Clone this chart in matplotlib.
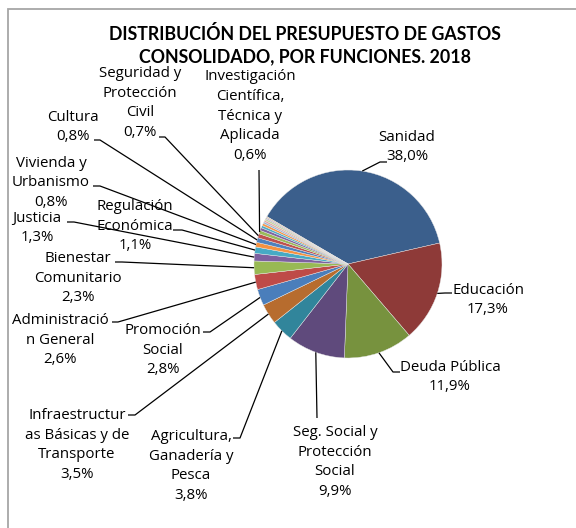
import matplotlib
matplotlib.use("Agg")
import matplotlib.pyplot as plt
from matplotlib.patches import Rectangle
import numpy as np

# Datos (porcentaje del presupuesto de gastos consolidado 2018)
funciones = [
    "Sanidad",
    "Educación",
    "Deuda Pública",
    "Seg. Social y\nProtección\nSocial",
    "Agricultura,\nGanadería y\nPesca",
    "Infraestructur\nas Básicas y de\nTransporte",
    "Promoción\nSocial",
    "Administració\nn General",
    "Bienestar\nComunitario",
    "Justicia",
    "Regulación\nEconómica",
    "Vivienda y\nUrbanismo",
    "Cultura",
    "Seguridad y\nProtección\nCivil",
    "Investigación\nCientífica,\nTécnica y\nAplicada",
]
porcentajes = [38.0, 17.3, 11.9, 9.9, 3.8, 3.5, 2.8, 2.6, 2.3, 1.3, 1.1, 0.8, 0.8, 0.7, 0.6]
# funciones pequeñas sin etiqueta
otras = [0.5, 0.4, 0.4, 0.3, 0.3, 0.3, 0.2, 0.2]

colores = [
    "#3b5f8c", "#8e3a38", "#77923e", "#5f4a7c", "#31859b", "#b76c2e",
    "#4a7ebb", "#be4b48", "#98b954", "#7d60a0", "#46aac5", "#f69240",
    "#4f81bd", "#c0504d", "#9bbb59", "#8064a2", "#4bacc6", "#f79646",
    "#95b3d7", "#e6a3a2", "#c3d69b", "#b3a2c7", "#d9c3a5",
]

# posiciones de las etiquetas (pixeles de imagen, y hacia abajo)
pos_etiqueta = [
    (407, 147), (488, 300), (450, 377), (335, 462), (191, 466),
    (77, 445), (163, 350), (60, 340), (78, 278), (37, 228),
    (135, 226), (51, 183), (73, 127), (140, 103), (250, 116),
]
# punto de enganche de la linea guia junto al texto, y codo
enganche = [
    ((387, 162), (380, 162)), ((452, 293), (445, 293)), ((400, 372), (393, 372)),
    ((317, 418), (317, 418)), ((233, 438), (240, 438)), ((128, 415), (135, 415)),
    ((203, 332), (210, 332)), ((112, 322), (118, 322)), ((115, 262), (122, 262)),
    ((67, 222), (74, 222)), ((173, 230), (182, 230)), ((93, 186), (100, 186)),
    ((94, 140), (100, 140)), ((159, 137), (165, 137)), ((259, 170), (259, 170)),
]

W, H = 576, 528
centro = (348, H - 264)
radio = 94

plt.rcParams["font.family"] = ["Open Sans", "DejaVu Sans"]

fig = plt.figure(figsize=(W / 100, H / 100), dpi=100)
ax = fig.add_axes([0, 0, 1, 1])
ax.axis("off")

# marco del grafico
ax.add_patch(Rectangle((7.5, -20), W + 40, H - 8.5 + 20, fill=False,
                       edgecolor="#a6a6a6", linewidth=1.3))

valores = porcentajes + otras
wedges, _ = ax.pie(valores, colors=colores[:len(valores)], startangle=149.7,
                   counterclock=False, center=centro, radius=radio,
                   wedgeprops=dict(linewidth=0.3, edgecolor="#e8e8e8"))
ax.set_aspect("equal")
ax.set_xlim(0, W)
ax.set_ylim(0, H)

for i, nombre in enumerate(funciones):
    w = wedges[i]
    ang = np.deg2rad((w.theta1 + w.theta2) / 2)
    px = centro[0] + radio * np.cos(ang)
    py = centro[1] + radio * np.sin(ang)
    (x1, y1), (x2, y2) = enganche[i]
    ax.plot([x1, x2, px], [H - y1, H - y2, py], color="black", linewidth=0.9,
            solid_capstyle="butt")
    texto = nombre + "\n" + f"{porcentajes[i]:.1f}".replace(".", ",") + "%"
    tx, ty = pos_etiqueta[i]
    ax.text(tx, H - ty, texto, ha="center", va="center", multialignment="center",
            fontsize=10.8, linespacing=1.43, color="black")

ax.text(305, H - 45, "DISTRIBUCIÓN DEL PRESUPUESTO DE GASTOS\nCONSOLIDADO, POR FUNCIONES. 2018",
        ha="center", va="center", fontsize=12.8, fontweight="bold",
        family=["Lato", "DejaVu Sans"], linespacing=1.35, color="black")

fig.savefig("out.png", dpi=100, facecolor="white")
